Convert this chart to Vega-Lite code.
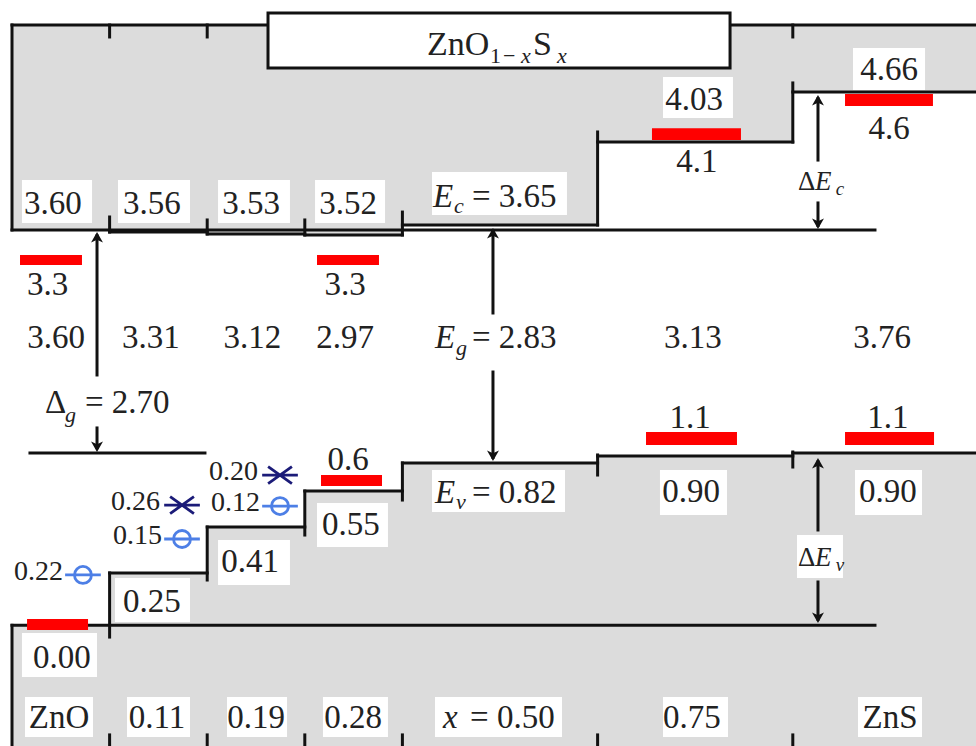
{
  "$schema": "https://vega.github.io/schema/vega-lite/v6.json",
  "width": 976,
  "height": 746,
  "autosize": {"type": "none"},
  "padding": 0,
  "background": "white",
  "config": {"view": {"stroke": null}, "text": {"font": "Times New Roman, Liberation Serif, DejaVu Serif, serif"}},
  "datasets": {
    "grey": [
      {"x": 0, "x2": 1.01, "y": 3.604, "y2": 5.472},
      {"x": 1, "x2": 2.01, "y": 3.585, "y2": 5.472},
      {"x": 2, "x2": 3.01, "y": 3.567, "y2": 5.472},
      {"x": 3, "x2": 4.01, "y": 3.558, "y2": 5.472},
      {"x": 4, "x2": 6.01, "y": 3.649, "y2": 5.472},
      {"x": 6, "x2": 8.01, "y": 4.405, "y2": 5.472},
      {"x": 8, "x2": 9.877, "y": 4.861, "y2": 5.472},
      {"x": 0, "x2": 1.01, "y": 0, "y2": -1.1},
      {"x": 1, "x2": 2.01, "y": 0.477, "y2": -1.1},
      {"x": 2, "x2": 3.01, "y": 0.896, "y2": -1.1},
      {"x": 3, "x2": 4.01, "y": 1.224, "y2": -1.1},
      {"x": 4, "x2": 6.01, "y": 1.48, "y2": -1.1},
      {"x": 6, "x2": 8.01, "y": 1.544, "y2": -1.1},
      {"x": 8, "x2": 9.877, "y": 1.571, "y2": -1.1}
    ],
    "boxes": [
      {"x": 0.102, "x2": 0.82, "y": 4.06, "y2": 3.668},
      {"x": 1.086, "x2": 1.824, "y": 4.06, "y2": 3.668},
      {"x": 2.111, "x2": 2.848, "y": 4.06, "y2": 3.668},
      {"x": 3.105, "x2": 3.822, "y": 4.06, "y2": 3.668},
      {"x": 4.303, "x2": 5.686, "y": 4.132, "y2": 3.74},
      {"x": 6.67, "x2": 7.387, "y": 4.998, "y2": 4.624},
      {"x": 8.617, "x2": 9.355, "y": 5.263, "y2": 4.88},
      {"x": 1.055, "x2": 1.824, "y": 0.431, "y2": 0.03},
      {"x": 2.111, "x2": 2.848, "y": 0.778, "y2": 0.367},
      {"x": 3.125, "x2": 3.852, "y": 1.115, "y2": 0.714},
      {"x": 4.303, "x2": 5.666, "y": 1.416, "y2": 1.033},
      {"x": 6.639, "x2": 7.326, "y": 1.416, "y2": 1.006},
      {"x": 8.637, "x2": 9.324, "y": 1.416, "y2": 1.006},
      {"x": 0.102, "x2": 0.871, "y": -0.07, "y2": -0.471},
      {"x": 8.043, "x2": 8.514, "y": 0.823, "y2": 0.431},
      {"x": 0.133, "x2": 0.83, "y": -0.653, "y2": -1.017},
      {"x": 1.178, "x2": 1.824, "y": -0.653, "y2": -1.017},
      {"x": 2.203, "x2": 2.818, "y": -0.653, "y2": -1.017},
      {"x": 3.186, "x2": 3.852, "y": -0.653, "y2": -1.017},
      {"x": 4.334, "x2": 5.635, "y": -0.653, "y2": -1.017},
      {"x": 6.67, "x2": 7.336, "y": -0.653, "y2": -1.017},
      {"x": 8.668, "x2": 9.324, "y": -0.653, "y2": -1.017}
    ],
    "segs": [
      {"x": 0, "x2": 8.842, "y": 3.604, "y2": 3.604},
      {"x": 1, "x2": 2, "y": 3.585, "y2": 3.585},
      {"x": 2, "x2": 3, "y": 3.567, "y2": 3.567},
      {"x": 3, "x2": 4, "y": 3.558, "y2": 3.558},
      {"x": 4, "x2": 6, "y": 3.649, "y2": 3.649},
      {"x": 6, "x2": 8, "y": 4.405, "y2": 4.405},
      {"x": 8, "x2": 9.877, "y": 4.861, "y2": 4.861},
      {"x": 0, "x2": 8.842, "y": 0, "y2": 0},
      {"x": 1, "x2": 2, "y": 0.477, "y2": 0.477},
      {"x": 2, "x2": 3, "y": 0.896, "y2": 0.896},
      {"x": 3, "x2": 4, "y": 1.224, "y2": 1.224},
      {"x": 4, "x2": 6, "y": 1.48, "y2": 1.48},
      {"x": 6, "x2": 8, "y": 1.544, "y2": 1.544},
      {"x": 8, "x2": 9.877, "y": 1.571, "y2": 1.571},
      {"x": 0.184, "x2": 1.977, "y": 1.571, "y2": 1.571},
      {"x": 0, "x2": 9.877, "y": 5.472, "y2": 5.472},
      {"x": 0, "x2": 0, "y": 5.472, "y2": 3.604},
      {"x": 0, "x2": 0, "y": 0, "y2": -1.1},
      {"x": 1, "x2": 1, "y": 3.722, "y2": 3.585},
      {"x": 2, "x2": 2, "y": 3.695, "y2": 3.567},
      {"x": 3, "x2": 3, "y": 3.695, "y2": 3.558},
      {"x": 4, "x2": 4, "y": 3.767, "y2": 3.558},
      {"x": 6, "x2": 6, "y": 3.649, "y2": 4.497},
      {"x": 8, "x2": 8, "y": 4.405, "y2": 4.944},
      {"x": 1, "x2": 1, "y": 5.472, "y2": 5.363},
      {"x": 2, "x2": 2, "y": 5.472, "y2": 5.363},
      {"x": 3, "x2": 3, "y": 5.472, "y2": 5.363},
      {"x": 4, "x2": 4, "y": 5.472, "y2": 5.363},
      {"x": 6, "x2": 6, "y": 5.472, "y2": 5.363},
      {"x": 8, "x2": 8, "y": 5.472, "y2": 5.363},
      {"x": 1, "x2": 1, "y": -0.107, "y2": 0.477},
      {"x": 2, "x2": 2, "y": 0.413, "y2": 0.896},
      {"x": 3, "x2": 3, "y": 0.823, "y2": 1.224},
      {"x": 4, "x2": 4, "y": 1.142, "y2": 1.48},
      {"x": 6, "x2": 6, "y": 1.37, "y2": 1.553},
      {"x": 8, "x2": 8, "y": 1.443, "y2": 1.58},
      {"x": 1, "x2": 1, "y": -1.1, "y2": -0.999},
      {"x": 2, "x2": 2, "y": -1.1, "y2": -0.999},
      {"x": 3, "x2": 3, "y": -1.1, "y2": -0.999},
      {"x": 4, "x2": 4, "y": -1.1, "y2": -0.999},
      {"x": 6, "x2": 6, "y": -1.1, "y2": -0.999},
      {"x": 8, "x2": 8, "y": -1.1, "y2": -0.999},
      {"x": 0.871, "x2": 0.871, "y": 3.55, "y2": 2.282},
      {"x": 0.871, "x2": 0.871, "y": 1.799, "y2": 1.62},
      {"x": 4.928, "x2": 4.928, "y": 3.59, "y2": 2.847},
      {"x": 4.928, "x2": 4.928, "y": 2.309, "y2": 1.53},
      {"x": 8.258, "x2": 8.258, "y": 4.8, "y2": 4.241},
      {"x": 8.258, "x2": 8.258, "y": 3.85, "y2": 3.645},
      {"x": 8.258, "x2": 8.258, "y": 1.49, "y2": 0.869},
      {"x": 8.258, "x2": 8.258, "y": 0.395, "y2": 0.055}
    ],
    "red": [
      {"x": 0.082, "x2": 0.717, "y": 3.376, "y2": 3.285},
      {"x": 3.125, "x2": 3.76, "y": 3.376, "y2": 3.285},
      {"x": 6.557, "x2": 7.469, "y": 4.532, "y2": 4.424},
      {"x": 8.535, "x2": 9.436, "y": 4.843, "y2": 4.734},
      {"x": 6.496, "x2": 7.428, "y": 1.762, "y2": 1.644},
      {"x": 8.535, "x2": 9.447, "y": 1.762, "y2": 1.644},
      {"x": 3.166, "x2": 3.791, "y": 1.37, "y2": 1.27},
      {"x": 0.154, "x2": 0.779, "y": 0.057, "y2": -0.043}
    ],
    "heads": [
      {"x": 0.871, "y": 3.585, "a": 0},
      {"x": 0.871, "y": 1.58, "a": 180},
      {"x": 4.928, "y": 3.622, "a": 0},
      {"x": 4.928, "y": 1.498, "a": 180},
      {"x": 8.258, "y": 4.834, "a": 0},
      {"x": 8.258, "y": 3.613, "a": 180},
      {"x": 8.258, "y": 1.525, "a": 0},
      {"x": 8.258, "y": 0.021, "a": 180}
    ],
    "sym": [
      {"x": 0.727, "y": 0.459, "k": "ring"},
      {"x": 1.742, "y": 0.787, "k": "ring"},
      {"x": 1.742, "y": 1.096, "k": "star"},
      {"x": 2.746, "y": 1.087, "k": "ring"},
      {"x": 2.746, "y": 1.37, "k": "star"}
    ],
    "title": [
      {"x": 2.623, "x2": 7.357, "y": 5.582, "y2": 5.08}
    ],
    "txtC": [
      {"x": 0.42, "y": 3.749, "t": "3.60", "s": 33},
      {"x": 1.434, "y": 3.749, "t": "3.56", "s": 33},
      {"x": 2.449, "y": 3.749, "t": "3.53", "s": 33},
      {"x": 3.443, "y": 3.749, "t": "3.52", "s": 33},
      {"x": 6.988, "y": 4.697, "t": "4.03", "s": 33},
      {"x": 8.986, "y": 4.975, "t": "4.66", "s": 33},
      {"x": 7.018, "y": 4.131, "t": "4.1", "s": 33},
      {"x": 8.986, "y": 4.433, "t": "4.6", "s": 33},
      {"x": 0.364, "y": 3.011, "t": "3.3", "s": 33},
      {"x": 3.412, "y": 3.011, "t": "3.3", "s": 33},
      {"x": 0.451, "y": 2.528, "t": "3.60", "s": 33},
      {"x": 1.424, "y": 2.528, "t": "3.31", "s": 33},
      {"x": 2.464, "y": 2.528, "t": "3.12", "s": 33},
      {"x": 3.412, "y": 2.528, "t": "2.97", "s": 33},
      {"x": 6.977, "y": 2.528, "t": "3.13", "s": 33},
      {"x": 8.914, "y": 2.528, "t": "3.76", "s": 33},
      {"x": 3.443, "y": 1.416, "t": "0.6", "s": 33},
      {"x": 6.947, "y": 1.799, "t": "1.1", "s": 33},
      {"x": 8.975, "y": 1.799, "t": "1.1", "s": 33},
      {"x": 1.434, "y": 0.121, "t": "0.25", "s": 33},
      {"x": 2.439, "y": 0.486, "t": "0.41", "s": 33},
      {"x": 3.473, "y": 0.823, "t": "0.55", "s": 33},
      {"x": 6.957, "y": 1.124, "t": "0.90", "s": 33},
      {"x": 8.975, "y": 1.124, "t": "0.90", "s": 33},
      {"x": 0.512, "y": -0.389, "t": "0.00", "s": 33},
      {"x": 0.482, "y": -0.936, "t": "ZnO", "s": 33},
      {"x": 1.486, "y": -0.936, "t": "0.11", "s": 33},
      {"x": 2.5, "y": -0.936, "t": "0.19", "s": 33},
      {"x": 3.494, "y": -0.936, "t": "0.28", "s": 33},
      {"x": 6.967, "y": -0.936, "t": "0.75", "s": 33},
      {"x": 8.996, "y": -0.936, "t": "ZnS", "s": 33}
    ],
    "txtL": [
      {"x": 4.713, "y": 3.813, "t": "= 3.65", "s": 33},
      {"x": 4.713, "y": 2.528, "t": "= 2.83", "s": 33},
      {"x": 4.713, "y": 1.115, "t": "= 0.82", "s": 33},
      {"x": 0.748, "y": 1.935, "t": "= 2.70", "s": 33},
      {"x": 4.693, "y": -0.936, "t": "= 0.50", "s": 33},
      {"x": 0.338, "y": 1.935, "t": "Δ", "s": 33},
      {"x": 8.053, "y": 3.969, "t": "Δ", "s": 27},
      {"x": 8.053, "y": 0.541, "t": "Δ", "s": 27},
      {"x": 4.252, "y": 5.199, "t": "ZnO", "s": 34},
      {"x": 4.898, "y": 5.126, "t": "1", "s": 22},
      {"x": 5.031, "y": 5.126, "t": "−", "s": 22},
      {"x": 5.338, "y": 5.199, "t": "S", "s": 34}
    ],
    "txtI": [
      {"x": 4.314, "y": 3.813, "t": "E", "s": 33},
      {"x": 4.529, "y": 3.758, "t": "c", "s": 22},
      {"x": 4.334, "y": 2.528, "t": "E", "s": 33},
      {"x": 4.549, "y": 2.464, "t": "g", "s": 22},
      {"x": 4.334, "y": 1.115, "t": "E", "s": 33},
      {"x": 4.549, "y": 1.06, "t": "v", "s": 22},
      {"x": 0.543, "y": 1.853, "t": "g", "s": 22},
      {"x": 4.416, "y": -0.936, "t": "x", "s": 33},
      {"x": 8.227, "y": 3.969, "t": "E", "s": 27},
      {"x": 8.44, "y": 3.923, "t": "c", "s": 19},
      {"x": 8.227, "y": 0.541, "t": "E", "s": 27},
      {"x": 8.44, "y": 0.495, "t": "v", "s": 19},
      {"x": 5.215, "y": 5.126, "t": "x", "s": 22},
      {"x": 5.584, "y": 5.126, "t": "x", "s": 22}
    ],
    "txtR": [
      {"x": 0.523, "y": 0.413, "t": "0.22", "s": 28},
      {"x": 1.537, "y": 0.741, "t": "0.15", "s": 28},
      {"x": 1.516, "y": 1.051, "t": "0.26", "s": 28},
      {"x": 2.541, "y": 1.042, "t": "0.12", "s": 28},
      {"x": 2.52, "y": 1.325, "t": "0.20", "s": 28}
    ]
  },
  "layer": [
    {
      "data": {"name": "grey"},
      "mark": {"type": "rect", "color": "#dcdcdc", "strokeWidth": 0},
      "encoding": {
        "x": {"field": "x", "type": "quantitative", "scale": {"domain": [-0.123, 9.877], "nice": false, "zero": false}, "axis": null},
        "x2": {"field": "x2"},
        "y": {"field": "y", "type": "quantitative", "scale": {"domain": [-1.1, 5.7], "nice": false, "zero": false}, "axis": null},
        "y2": {"field": "y2"}
      }
    },
    {
      "data": {"name": "boxes"},
      "mark": {"type": "rect", "color": "#ffffff", "strokeWidth": 0},
      "encoding": {
        "x": {"field": "x", "type": "quantitative", "scale": {"domain": [-0.123, 9.877], "nice": false, "zero": false}, "axis": null},
        "x2": {"field": "x2"},
        "y": {"field": "y", "type": "quantitative", "scale": {"domain": [-1.1, 5.7], "nice": false, "zero": false}, "axis": null},
        "y2": {"field": "y2"}
      }
    },
    {
      "data": {"name": "segs"},
      "mark": {"type": "rule", "color": "#111111", "strokeWidth": 3, "strokeCap": "square"},
      "encoding": {
        "x": {"field": "x", "type": "quantitative", "scale": {"domain": [-0.123, 9.877], "nice": false, "zero": false}, "axis": null},
        "x2": {"field": "x2"},
        "y": {"field": "y", "type": "quantitative", "scale": {"domain": [-1.1, 5.7], "nice": false, "zero": false}, "axis": null},
        "y2": {"field": "y2"}
      }
    },
    {
      "data": {"name": "red"},
      "mark": {"type": "rect", "color": "#ff0000", "strokeWidth": 0},
      "encoding": {
        "x": {"field": "x", "type": "quantitative", "scale": {"domain": [-0.123, 9.877], "nice": false, "zero": false}, "axis": null},
        "x2": {"field": "x2"},
        "y": {"field": "y", "type": "quantitative", "scale": {"domain": [-1.1, 5.7], "nice": false, "zero": false}, "axis": null},
        "y2": {"field": "y2"}
      }
    },
    {
      "data": {"name": "heads"},
      "mark": {"type": "point", "shape": "M0,0L0.85,1.5L0,1.1L-0.85,1.5Z", "filled": true, "color": "#111111", "opacity": 1, "size": 196, "strokeWidth": 1},
      "encoding": {
        "x": {"field": "x", "type": "quantitative", "scale": {"domain": [-0.123, 9.877], "nice": false, "zero": false}, "axis": null},
        "y": {"field": "y", "type": "quantitative", "scale": {"domain": [-1.1, 5.7], "nice": false, "zero": false}, "axis": null},
        "angle": {"field": "a", "type": "quantitative", "scale": null}
      }
    },
    {
      "data": {"name": "sym"},
      "mark": {"type": "point", "filled": false, "opacity": 1, "size": 289, "strokeWidth": 2.8},
      "encoding": {
        "x": {"field": "x", "type": "quantitative", "scale": {"domain": [-0.123, 9.877], "nice": false, "zero": false}, "axis": null},
        "y": {"field": "y", "type": "quantitative", "scale": {"domain": [-1.1, 5.7], "nice": false, "zero": false}, "axis": null},
        "shape": {"field": "k", "type": "nominal", "scale": {"domain": ["ring", "star"], "range": ["M-2.1,0L2.1,0M1,0A1,1,0,1,1,-1,0A1,1,0,1,1,1,0", "M-2.1,0L2.1,0M-1.4,-1L1.4,1M-1.4,1L1.4,-1"]}, "legend": null},
        "color": {"field": "k", "type": "nominal", "scale": {"domain": ["ring", "star"], "range": ["#4d7fe6", "#1b1b78"]}, "legend": null}
      }
    },
    {
      "data": {"name": "title"},
      "mark": {"type": "rect", "fill": "#ffffff", "stroke": "#111111", "strokeWidth": 3},
      "encoding": {
        "x": {"field": "x", "type": "quantitative", "scale": {"domain": [-0.123, 9.877], "nice": false, "zero": false}, "axis": null},
        "x2": {"field": "x2"},
        "y": {"field": "y", "type": "quantitative", "scale": {"domain": [-1.1, 5.7], "nice": false, "zero": false}, "axis": null},
        "y2": {"field": "y2"}
      }
    },
    {
      "data": {"name": "txtC"},
      "mark": {"type": "text", "align": "center", "baseline": "alphabetic", "color": "#222222"},
      "encoding": {
        "x": {"field": "x", "type": "quantitative", "scale": {"domain": [-0.123, 9.877], "nice": false, "zero": false}, "axis": null},
        "y": {"field": "y", "type": "quantitative", "scale": {"domain": [-1.1, 5.7], "nice": false, "zero": false}, "axis": null},
        "text": {"field": "t"},
        "size": {"field": "s", "type": "quantitative", "scale": null}
      }
    },
    {
      "data": {"name": "txtL"},
      "mark": {"type": "text", "align": "left", "baseline": "alphabetic", "color": "#222222"},
      "encoding": {
        "x": {"field": "x", "type": "quantitative", "scale": {"domain": [-0.123, 9.877], "nice": false, "zero": false}, "axis": null},
        "y": {"field": "y", "type": "quantitative", "scale": {"domain": [-1.1, 5.7], "nice": false, "zero": false}, "axis": null},
        "text": {"field": "t"},
        "size": {"field": "s", "type": "quantitative", "scale": null}
      }
    },
    {
      "data": {"name": "txtI"},
      "mark": {"type": "text", "align": "left", "baseline": "alphabetic", "fontStyle": "italic", "color": "#222222"},
      "encoding": {
        "x": {"field": "x", "type": "quantitative", "scale": {"domain": [-0.123, 9.877], "nice": false, "zero": false}, "axis": null},
        "y": {"field": "y", "type": "quantitative", "scale": {"domain": [-1.1, 5.7], "nice": false, "zero": false}, "axis": null},
        "text": {"field": "t"},
        "size": {"field": "s", "type": "quantitative", "scale": null}
      }
    },
    {
      "data": {"name": "txtR"},
      "mark": {"type": "text", "align": "right", "baseline": "alphabetic", "color": "#222222"},
      "encoding": {
        "x": {"field": "x", "type": "quantitative", "scale": {"domain": [-0.123, 9.877], "nice": false, "zero": false}, "axis": null},
        "y": {"field": "y", "type": "quantitative", "scale": {"domain": [-1.1, 5.7], "nice": false, "zero": false}, "axis": null},
        "text": {"field": "t"},
        "size": {"field": "s", "type": "quantitative", "scale": null}
      }
    }
  ]
}
